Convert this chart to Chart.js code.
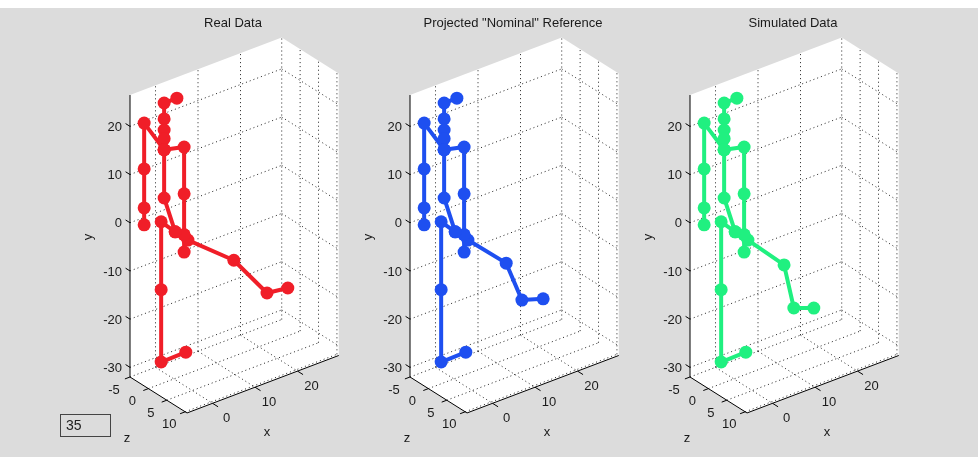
<!DOCTYPE html>
<html>
<head>
<meta charset="utf-8">
<script src="https://cdn.jsdelivr.net/npm/chart.js@4"></script>
<style>
  html, body { margin: 0; padding: 0; }
  body { width: 978px; height: 457px; background: #dcdcdc; position: relative; overflow: hidden; font-family: "Liberation Sans", Arial, sans-serif; }
  #band { position: absolute; left: 0; top: 0; width: 978px; height: 8px; background: #fff; }
  canvas { position: absolute; top: 0; }
  #frame { position: absolute; left: 60px; top: 414px; width: 51px; height: 23px; box-sizing: border-box; border: 1px solid #444; font-size: 14px; line-height: 21px; padding-left: 5px; color: #222; }
</style>
</head>
<body>
<div id="band"></div>
<canvas id="real" width="360" height="457" style="left:0px"></canvas>
<canvas id="nominal" width="360" height="457" style="left:280px"></canvas>
<canvas id="simulated" width="418" height="457" style="left:560px"></canvas>
<div id="frame">35</div>
<script>
// joints shared by the three skeletons: head, spine, arms, hips, standing leg
const bodyX = [3.3, 0.3, 0.3, 0.3, 0.3, 0.3, 0.3, 2.9, 5.0, 5.9, 5.0, 5.0, 5.0, -4.4, -4.4, -4.4, -4.4, -0.4, -0.4, -0.4, 5.4];
const bodyY = [23.7, 23.7, 20.4, 18.1, 16.3, 14.0, 4.0, -3.9, -5.2, -6.6, 13.0, 3.3, -8.8, 21.1, 11.6, 3.5, 0.0, -0.7, -14.8, -29.8, -29.7];
const bodyZ = [-3, -3, -3, -3, -3, -3, -3, -3, -3, -3, -3, -3, -3, -3, -3, -3, -3, -3, -3, -3, -3];

// raised leg (knee, ankle, toe) for each skeleton
const realLegX = [16.7, 24.5, 29.4];
const realLegY = [-14.4, -23.8, -24.4];
const realLegZ = [-3, -3, -3];
const nominalLegX = [14.9, 18.6, 23.6];
const nominalLegY = [-14.4, -23.3, -24.7];
const nominalLegZ = [-3, -3, -3];
const simulatedLegX = [14.4, 16.7, 21.4];
const simulatedLegY = [-14.6, -24.3, -25.9];
const simulatedLegZ = [-3, -3, -3];

// bone chains as joint indices (21..23 = leg)
const chains = [
  [0, 1, 2, 3, 4, 5, 6, 7, 8, 9, 21, 22, 23],
  [5, 10, 11, 8, 12],
  [5, 13, 14, 15, 16],
  [7, 17, 18, 19, 20]
];

const xTicks = [0, 10, 20];
const yTicks = [-30, -20, -10, 0, 10, 20];
const zTicks = [-5, 0, 5, 10];
const xLim = [-6, 29.7];
const yLim = [-32, 26.5];
const zLim = [-5, 10.5];

// orthographic view: x runs right/up, y straight up, z right/down
function project(x, y, z) {
  return { x: 4.25 * x + 3.68 * z, y: 4.82 * y + 1.61 * x - 2.32 * z };
}

const ORIGIN_X = 173.9, ORIGIN_Y = 224.7, H = 457;

function skeletonPoints(legX, legY, legZ) {
  const xs = bodyX.concat(legX), ys = bodyY.concat(legY), zs = bodyZ.concat(legZ);
  const pts = [];
  chains.forEach(c => {
    c.forEach(i => pts.push(project(xs[i], ys[i], zs[i])));
    pts.push({ x: null, y: null });
  });
  return pts;
}

const axes3d = {
  id: 'axes3d',
  beforeDatasetsDraw(chart, args, opts) {
    const ctx = chart.ctx;
    const sx = chart.scales.x, sy = chart.scales.y;
    const P = (x, y, z) => {
      const p = project(x, y, z);
      return [sx.getPixelForValue(p.x), sy.getPixelForValue(p.y)];
    };
    const [x0, x1] = xLim, [y0, y1] = yLim, [z0, z1] = zLim;
    ctx.save();

    // back planes
    const hex = [P(x0, y1, z0), P(x1, y1, z0), P(x1, y1, z1), P(x1, y0, z1), P(x0, y0, z1), P(x0, y0, z0)];
    ctx.fillStyle = '#fff';
    ctx.beginPath();
    hex.forEach((p, i) => i ? ctx.lineTo(p[0], p[1]) : ctx.moveTo(p[0], p[1]));
    ctx.closePath();
    ctx.fill();

    const seg = (a, b) => { ctx.beginPath(); ctx.moveTo(a[0], a[1]); ctx.lineTo(b[0], b[1]); ctx.stroke(); };

    // dotted grid
    ctx.strokeStyle = '#222';
    ctx.lineWidth = 1;
    ctx.setLineDash([1, 3]);
    xTicks.forEach(x => {
      seg(P(x, y0, z0), P(x, y1, z0));
      seg(P(x, y0, z0), P(x, y0, z1));
    });
    yTicks.forEach(y => {
      seg(P(x0, y, z0), P(x1, y, z0));
      seg(P(x1, y, z0), P(x1, y, z1));
    });
    zTicks.forEach(z => {
      seg(P(x1, y0, z), P(x1, y1, z));
      seg(P(x0, y0, z), P(x1, y0, z));
    });

    // axis lines and ticks
    ctx.setLineDash([]);
    ctx.strokeStyle = '#000';
    seg(P(x0, y0, z0), P(x0, y1, z0));
    seg(P(x0, y0, z0), P(x0, y0, z1));
    seg(P(x0, y0, z1), P(x1, y0, z1));

    ctx.fillStyle = '#1a1a1a';
    ctx.font = '13px "Liberation Sans", Arial, sans-serif';
    ctx.textBaseline = 'middle';
    yTicks.forEach(y => {
      const a = P(x0, y, z0);
      seg(a, P(x0, y, z0 - 1.2));
      ctx.textAlign = 'right';
      ctx.fillText(String(y), a[0] - 8, a[1] + 1);
    });
    zTicks.forEach(z => {
      const a = P(x0, y0, z);
      seg(a, P(x0 - 1.2, y0, z));
      ctx.textAlign = 'center';
      ctx.fillText(String(z), a[0] - 16, a[1] + 13);
    });
    xTicks.forEach(x => {
      const a = P(x, y0, z1);
      seg(a, P(x, y0, z1 + 1.5));
      ctx.textAlign = 'center';
      ctx.fillText(String(x), a[0] + 14, a[1] + 15);
    });

    // axis names
    ctx.fillText('x', 267, 432);
    ctx.fillText('z', 127, 438);
    ctx.save();
    ctx.translate(88, 237);
    ctx.rotate(-Math.PI / 2);
    ctx.fillText('y', 0, 0);
    ctx.restore();

    // panel title
    ctx.font = '13px "Liberation Sans", Arial, sans-serif';
    ctx.fillText(opts.text, 233, 23);
    ctx.restore();
  }
};

function makePanel(id, title, color, legX, legY, legZ) {
  const canvas = document.getElementById(id);
  const W = canvas.width;
  new Chart(canvas, {
    type: 'scatter',
    data: {
      datasets: [{
        data: skeletonPoints(legX, legY, legZ),
        showLine: true,
        spanGaps: false,
        borderColor: color,
        backgroundColor: color,
        borderWidth: 4,
        borderJoinStyle: 'round',
        borderCapStyle: 'round',
        pointRadius: 6.5,
        pointBorderWidth: 0,
        pointHoverRadius: 6.5
      }]
    },
    options: {
      responsive: false,
      animation: false,
      devicePixelRatio: 1,
      events: [],
      layout: { padding: 0, autoPadding: false },
      plugins: { legend: { display: false }, tooltip: { enabled: false }, axes3d: { text: title } },
      scales: {
        x: { type: 'linear', display: false, min: -ORIGIN_X, max: W - ORIGIN_X },
        y: { type: 'linear', display: false, min: ORIGIN_Y - H, max: ORIGIN_Y }
      }
    },
    plugins: [axes3d]
  });
}

makePanel('real', 'Real Data', '#f01e28', realLegX, realLegY, realLegZ);
makePanel('nominal', 'Projected "Nominal" Reference', '#1e4ff0', nominalLegX, nominalLegY, nominalLegZ);
makePanel('simulated', 'Simulated Data', '#20f080', simulatedLegX, simulatedLegY, simulatedLegZ);
</script>
</body>
</html>
